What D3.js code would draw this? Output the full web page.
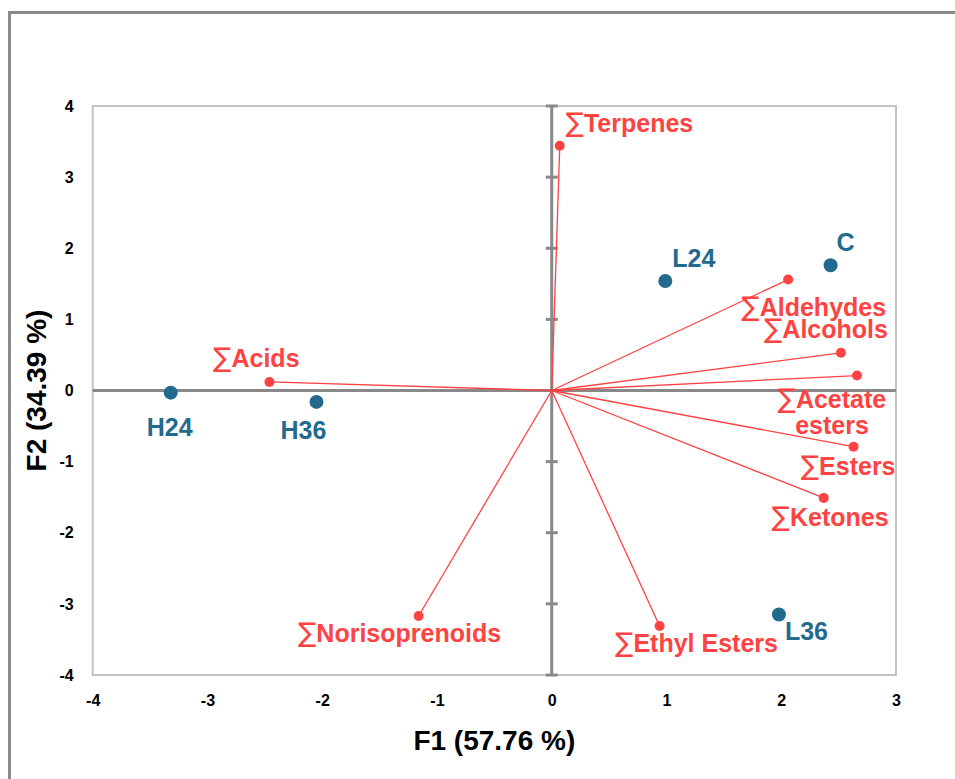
<!DOCTYPE html>
<html>
<head>
<meta charset="utf-8">
<script src="https://cdn.jsdelivr.net/npm/d3@7"></script>
<style>
html,body{margin:0;padding:0;background:#fff;}
svg{display:block;}
text{font-family:"Liberation Sans",Arial,sans-serif;font-weight:bold;}
</style>
</head>
<body>
<svg id="chart" width="955" height="779"></svg>
<script>
// ---- data ----
const obsNames = ["H24", "H36", "L24", "C", "L36"];
const obsF1 = [-3.32, -2.05, 0.99, 2.43, 1.98];
const obsF2 = [-0.03, -0.16, 1.54, 1.76, -3.15];

const varNames = ["∑Terpenes", "∑Aldehydes", "∑Alcohols", "∑Acetate esters", "∑Esters", "∑Ketones", "∑Acids", "∑Norisoprenoids", "∑Ethyl Esters"];
const varF1 = [0.07, 2.06, 2.52, 2.66, 2.63, 2.37, -2.46, -1.16, 0.94];
const varF2 = [3.44, 1.56, 0.53, 0.21, -0.79, -1.51, 0.12, -3.17, -3.31];

const xTicks = [-4, -3, -2, -1, 0, 1, 2, 3];
const yTicks = [-4, -3, -2, -1, 0, 1, 2, 3, 4];
const xTitle = "F1 (57.76 %)";
const yTitle = "F2 (34.39 %)";

// ---- label layout (pixel offsets from marks) ----
const varLabelLayout = {
  "∑Terpenes": {dx: 6, dy: -14, anchor: "start"},
  "∑Aldehydes": {dx: 98, dy: 36, anchor: "end"},
  "∑Alcohols": {dx: 47, dy: -15, anchor: "end"},
  "∑Acetate esters": {dx: -25, dy: 32, anchor: "middle", lines: ["∑Acetate", "esters"]},
  "∑Esters": {dx: 42, dy: 28, anchor: "end"},
  "∑Ketones": {dx: 65, dy: 28, anchor: "end"},
  "∑Acids": {dx: -13, dy: -15, anchor: "middle"},
  "∑Norisoprenoids": {dx: -19, dy: 26, anchor: "middle"},
  "∑Ethyl Esters": {dx: 37, dy: 26, anchor: "middle"}
};
const obsLabelLayout = {
  "H24": {dx: -1, dy: 43, anchor: "middle"},
  "H36": {dx: -13, dy: 37, anchor: "middle"},
  "L24": {dx: 7, dy: -14, anchor: "start"},
  "C": {dx: 6, dy: -14, anchor: "start"},
  "L36": {dx: 6, dy: 25, anchor: "start"}
};

const RED = "#ff4242";
const BLUE = "#236a8f";

const svg = d3.select("#chart");

// outer frame
svg.append("rect")
  .attr("x", 9.5).attr("y", 12.5)
  .attr("width", 1000).attr("height", 900)
  .attr("fill", "none").attr("stroke", "#8a8a8a").attr("stroke-width", 3);

const plot = {left: 92.7, right: 896, top: 106, bottom: 675};
const x = d3.scaleLinear().domain([-4, 3]).range([plot.left, plot.right]);
const y = d3.scaleLinear().domain([-4, 4]).range([plot.bottom, plot.top]);

// plot frame
svg.append("rect")
  .attr("x", plot.left).attr("y", plot.top)
  .attr("width", plot.right - plot.left).attr("height", plot.bottom - plot.top)
  .attr("fill", "none").attr("stroke", "#c3c3c3").attr("stroke-width", 2);

const fmt = d => String(d);

// y tick labels (left)
const yAxis = d3.axisLeft(y).tickValues(yTicks).tickSize(0).tickPadding(19).tickFormat(fmt);
const gy = svg.append("g").attr("transform", `translate(${plot.left},0)`).call(yAxis);
gy.select(".domain").remove();
gy.selectAll("text").attr("font-size", 16).attr("fill", "#000").attr("font-family", "Liberation Sans, Arial, sans-serif").attr("font-weight", "bold");

// x tick labels (bottom)
const xAxis = d3.axisBottom(x).tickValues(xTicks).tickSize(0).tickPadding(20).tickFormat(fmt);
const gx = svg.append("g").attr("transform", `translate(0,${plot.bottom})`).call(xAxis);
gx.select(".domain").remove();
gx.selectAll("text").attr("font-size", 16).attr("fill", "#000").attr("font-family", "Liberation Sans, Arial, sans-serif").attr("font-weight", "bold");

// zero axes
svg.append("line")
  .attr("x1", plot.left).attr("x2", plot.right)
  .attr("y1", y(0)).attr("y2", y(0))
  .attr("stroke", "#898989").attr("stroke-width", 3);
svg.append("line")
  .attr("x1", x(0)).attr("x2", x(0))
  .attr("y1", plot.top).attr("y2", plot.bottom)
  .attr("stroke", "#898989").attr("stroke-width", 3);
// cross ticks on vertical zero axis
svg.append("g").selectAll("line").data(yTicks.filter(d => d !== 0)).join("line")
  .attr("x1", x(0) - 6).attr("x2", x(0) + 6)
  .attr("y1", d => y(d)).attr("y2", d => y(d))
  .attr("stroke", "#898989").attr("stroke-width", 3);

// variable vectors
const vars = varNames.map((n, i) => ({name: n, f1: varF1[i], f2: varF2[i]}));
svg.append("g").selectAll("line").data(vars).join("line")
  .attr("x1", x(0)).attr("y1", y(0))
  .attr("x2", d => x(d.f1)).attr("y2", d => y(d.f2))
  .attr("stroke", RED).attr("stroke-width", 1.3);
svg.append("g").selectAll("circle").data(vars).join("circle")
  .attr("cx", d => x(d.f1)).attr("cy", d => y(d.f2)).attr("r", 5)
  .attr("fill", RED);

// observations
const obs = obsNames.map((n, i) => ({name: n, f1: obsF1[i], f2: obsF2[i]}));
svg.append("g").selectAll("circle").data(obs).join("circle")
  .attr("cx", d => x(d.f1)).attr("cy", d => y(d.f2)).attr("r", 7)
  .attr("fill", BLUE);

// variable labels (sigma drawn in a thin, tall glyph)
vars.forEach(d => {
  const L = varLabelLayout[d.name];
  const t = svg.append("text")
    .attr("x", x(d.f1) + L.dx).attr("y", y(d.f2) + L.dy)
    .attr("text-anchor", L.anchor)
    .attr("font-size", 25).attr("fill", RED);
  const lines = L.lines || [d.name];
  lines.forEach((ln, k) => {
    const first = t.append("tspan").attr("x", x(d.f1) + L.dx).attr("dy", k === 0 ? 0 : 26);
    if (ln.startsWith("∑")) {
      first.attr("font-family", "DejaVu Sans").attr("font-weight", "normal")
        .attr("font-size", 27).text("∑");
      t.append("tspan").text(ln.slice(1));
    } else {
      first.text(ln);
    }
  });
});

// observation labels
obs.forEach(d => {
  const L = obsLabelLayout[d.name];
  svg.append("text")
    .attr("x", x(d.f1) + L.dx).attr("y", y(d.f2) + L.dy)
    .attr("text-anchor", L.anchor)
    .attr("font-size", 25).attr("fill", BLUE)
    .text(d.name);
});

// axis titles
svg.append("text")
  .attr("x", (plot.left + plot.right) / 2).attr("y", 750)
  .attr("text-anchor", "middle").attr("font-size", 28).attr("fill", "#000")
  .text(xTitle);
svg.append("text")
  .attr("transform", `translate(46,${(plot.top + plot.bottom) / 2}) rotate(-90)`)
  .attr("text-anchor", "middle").attr("font-size", 28).attr("fill", "#000")
  .text(yTitle);
</script>
</body>
</html>
